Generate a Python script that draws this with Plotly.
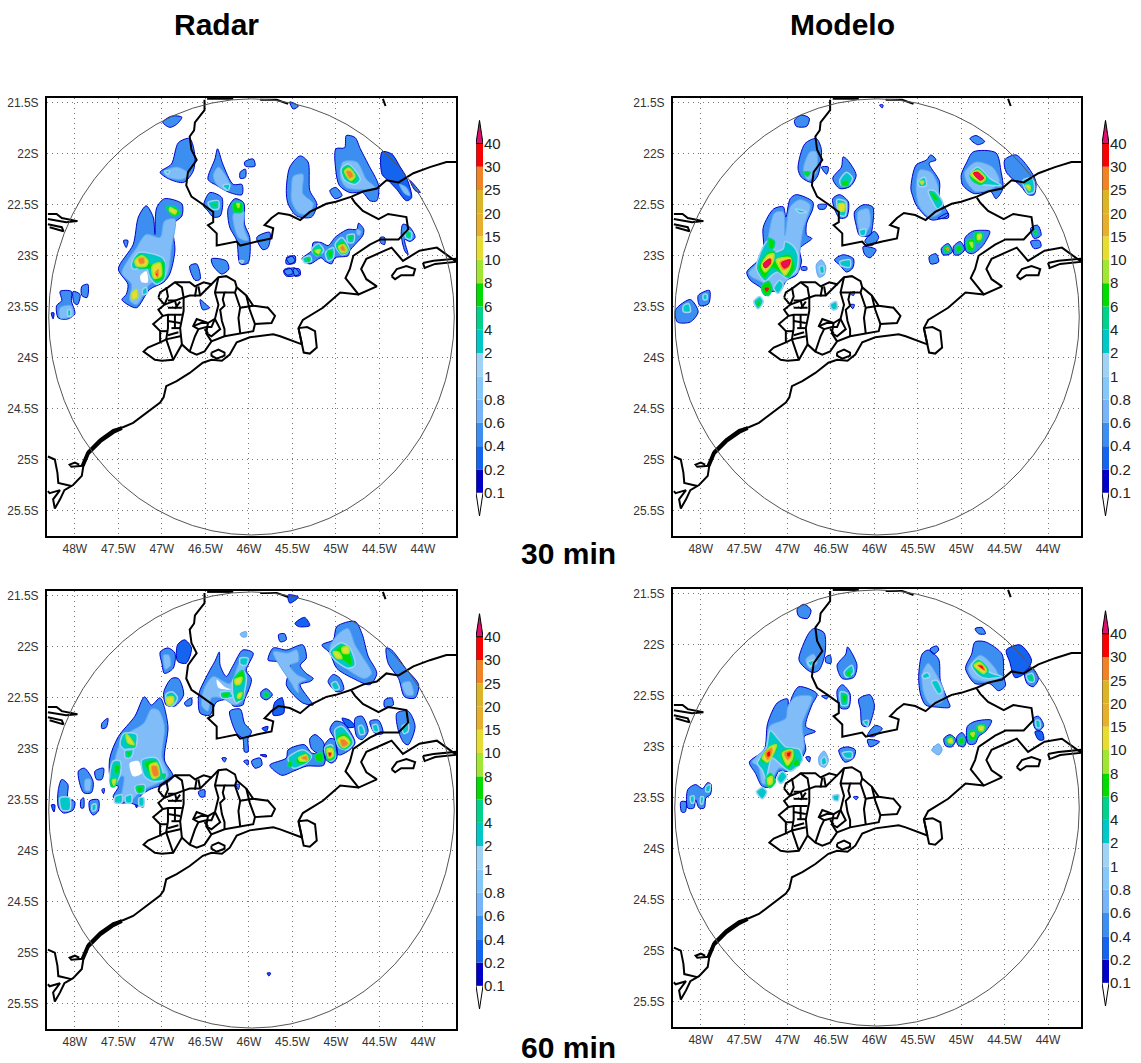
import plotly.graph_objects as go

W, H = 1141, 1063

# ---------- ticks ----------
lon_ticks = [48, 47.5, 47, 46.5, 46, 45.5, 45, 44.5, 44]
lon_labels = ["48W", "47.5W", "47W", "46.5W", "46W", "45.5W", "45W", "44.5W", "44W"]
lat_ticks = [21.5, 22, 22.5, 23, 23.5, 24, 24.5, 25, 25.5]
lat_labels = ["21.5S", "22S", "22.5S", "23S", "23.5S", "24S", "24.5S", "25S", "25.5S"]
lon_range = [48.32, 43.62]
lat_range = [25.75, 21.45]

# ---------- colour scale ----------
scale_labels = ["0.1", "0.2", "0.4", "0.6", "0.8", "1", "2", "4", "6", "8", "10", "15", "20", "25", "30", "40"]
scale_colors = ["#0000c8", "#1464f0", "#3c8ff0", "#78b4f8", "#87c8fa", "#a0d2f5", "#00c8c8", "#00d28c",
                "#00dc00", "#a0e632", "#e6dc32", "#e6af2d", "#dcb428", "#f08228", "#fa0000"]
scale_over_color = "#e0106e"

# ---------- radar range ring (degrees) ----------
ring_lon = [48.30, 43.64]
ring_lat = [25.74, 21.46]

# ---------- map lines: west longitude, south latitude ----------
border_main = [46.51,21.47, 46.51,21.57, 46.62,21.69, 46.63,21.77, 46.68,21.83, 46.66,21.96, 46.60,22.06, 46.70,22.18,
    46.72,22.31, 46.66,22.42, 46.54,22.49, 46.41,22.57, 46.41,22.67, 46.47,22.70, 46.37,22.78, 46.37,22.90, 46.14,22.86,
    46.10,22.90, 45.91,22.86, 45.74,22.83, 45.72,22.73, 45.82,22.70, 45.74,22.63, 45.66,22.58, 45.53,22.60, 45.41,22.65,
    45.30,22.57, 45.11,22.49, 45.00,22.47, 44.82,22.42, 44.69,22.37, 44.53,22.34, 44.42,22.26, 44.28,22.28, 44.11,22.19,
    43.92,22.13, 43.73,22.08, 43.61,22.08]
border_rj = [44.82,22.43, 44.78,22.48, 44.69,22.56, 44.51,22.64, 44.40,22.59, 44.19,22.62, 44.17,22.74, 44.28,22.84,
    44.49,22.84, 44.61,22.89, 44.80,23.00, 44.84,23.13, 44.89,23.22, 44.78,23.33, 44.74,23.38, 44.53,23.30, 44.65,23.23,
    44.71,23.13, 44.65,23.03, 44.44,22.95, 44.36,22.92, 44.23,23.05, 44.04,22.95, 43.84,22.92, 43.63,23.05]
coast_main = [44.74,23.38, 44.95,23.36, 45.15,23.51, 45.38,23.63, 45.43,23.71, 45.39,23.87, 45.64,23.79, 45.72,23.77,
    45.99,23.80, 46.14,23.85, 46.22,23.97, 46.31,24.03, 46.43,24.02, 46.53,24.05, 46.68,24.15, 46.83,24.23, 46.95,24.28,
    46.98,24.39, 47.02,24.44, 47.18,24.54, 47.33,24.64, 47.44,24.68, 47.56,24.71, 47.71,24.80, 47.85,24.92, 47.90,25.05,
    47.92,25.16, 48.02,25.25, 48.12,25.30, 48.17,25.39, 48.23,25.48, 48.25,25.39, 48.17,25.30, 48.29,25.33, 48.31,25.31]
coast_thick = [47.46,24.69, 47.56,24.73, 47.71,24.82, 47.85,24.94, 47.91,25.06]
coast_west = [48.31,24.97, 48.23,25.00, 48.20,25.13, 48.19,25.23, 48.04,25.26]
coast_loop = [47.90,25.06, 48.04,25.07, 48.06,25.05, 48.00,25.03, 47.95,25.05]
santos_loop = [46.43,23.95, 46.35,23.92, 46.28,23.95, 46.28,23.98, 46.37,24.01, 46.43,23.98, 46.43,23.95]
ilha_grande = [44.36,23.20, 44.30,23.13, 44.19,23.10, 44.09,23.13, 44.11,23.19, 44.25,23.19, 44.32,23.23, 44.36,23.20]
sepetiba = [44.00,23.07, 43.98,23.12, 43.86,23.08, 43.63,23.06, 43.63,23.03, 43.88,23.05, 44.00,23.07]
sao_sebastiao = [45.43,23.71, 45.39,23.87, 45.37,23.95, 45.30,23.96, 45.22,23.90, 45.24,23.74, 45.33,23.70, 45.43,23.71]
west_a = [48.31,22.59, 48.21,22.59, 48.15,22.63, 47.97,22.66, 48.10,22.67, 48.31,22.64]
west_b = [48.31,22.69, 48.15,22.72, 48.13,22.76, 48.29,22.72]
top_a = [46.48,21.46, 46.18,21.46]
top_b = [45.87,21.47, 45.68,21.47, 45.55,21.51]
top_c = [44.46,21.46, 44.43,21.53]
rmsp_outer = [47.04,23.41, 47.02,23.36, 46.93,23.31, 46.85,23.26, 46.68,23.26, 46.62,23.30, 46.52,23.26, 46.43,23.28,
    46.35,23.21, 46.26,23.20, 46.16,23.25, 46.14,23.31, 46.03,23.39, 45.95,23.49, 45.78,23.51, 45.70,23.59, 45.74,23.66,
    45.93,23.67, 45.95,23.74, 46.10,23.76, 46.28,23.79, 46.43,23.84, 46.51,23.94, 46.60,23.97, 46.68,23.94, 46.77,23.87,
    46.87,24.02, 47.00,24.03, 47.08,24.02, 47.21,23.94, 47.16,23.90, 47.02,23.85, 47.02,23.74, 47.10,23.67, 46.99,23.59,
    47.04,23.53, 46.97,23.48, 47.04,23.41]
rmsp_inner = [
    [46.97,23.48, 46.83,23.44, 46.75,23.41, 46.77,23.31, 46.85,23.26],
    [46.75,23.41, 46.68,23.39, 46.56,23.39, 46.51,23.35, 46.43,23.28],
    [46.95,23.31, 46.93,23.40, 46.97,23.48],
    [46.75,23.41, 46.75,23.54, 46.79,23.71, 46.77,23.87],
    [46.99,23.59, 46.93,23.58, 46.77,23.58],
    [46.93,23.58, 46.93,23.71, 46.95,23.82, 46.87,24.02],
    [47.02,23.85, 46.95,23.82, 46.79,23.79],
    [46.93,23.51, 46.77,23.51],
    [46.93,23.64, 46.79,23.66],
    [46.89,23.71, 46.79,23.71],
    [46.39,23.36, 46.28,23.36, 46.30,23.43, 46.28,23.49, 46.33,23.53, 46.31,23.64, 46.28,23.72, 46.28,23.79],
    [46.35,23.21, 46.39,23.36, 46.35,23.48, 46.39,23.62, 46.47,23.66, 46.60,23.62, 46.64,23.69, 46.58,23.72, 46.62,23.79, 46.68,23.94],
    [46.47,23.66, 46.49,23.76, 46.43,23.84],
    [46.39,23.62, 46.33,23.72, 46.43,23.79, 46.49,23.76],
    [46.16,23.36, 46.10,23.51, 46.12,23.61, 46.10,23.76],
    [46.10,23.51, 45.95,23.49],
    [46.03,23.39, 45.99,23.53, 45.93,23.67],
    [46.28,23.36, 46.16,23.36, 46.14,23.31],
    [46.93,23.44, 46.85,23.44, 46.83,23.50],
    [47.02,23.74, 46.93,23.74],
    [46.62,23.40, 46.60,23.30],
    [46.56,23.39, 46.58,23.30],
    [46.51,23.72, 46.47,23.76],
    [46.58,23.72, 46.49,23.70, 46.43,23.70, 46.39,23.62],
    [46.64,23.69, 46.55,23.66, 46.47,23.66],
    [46.79,23.45, 46.85,23.52],
    [46.85,23.58, 46.85,23.71],
    [46.93,23.78, 46.81,23.75],
]
top_marks = [47.53, 46.75, 46.37]

# ---------- rain areas: (level mm, [lon, lat, lon, lat, ...]) ; level 1 = rain-free hole ----------
radar_30 = [
 (0.4,[46.99,21.69,46.89,21.63,46.77,21.64,46.83,21.71,46.91,21.74]),
 (0.4,[47.02,22.18,46.89,22.10,46.81,21.89,46.68,21.85,46.62,22.02,46.64,22.17,46.75,22.28,46.91,22.25]),
 (0.8,[46.98,22.18,46.83,22.13,46.68,22.20,46.77,22.25,46.93,22.23]),
 (2,[46.97,22.17,46.91,22.17,46.93,22.20]),
 (0.4,[47.50,23.13,47.33,22.89,47.27,22.62,47.18,22.51,47.10,22.62,47.08,22.79,47.06,22.53,46.97,22.44,46.77,22.49,46.77,22.61,46.87,22.69,46.85,22.95,46.91,23.18,46.98,23.26,47.14,23.33,47.29,23.51,47.39,23.48,47.46,23.43,47.41,23.38,47.39,23.28]),
 (0.8,[47.46,23.17,47.29,22.92,47.18,22.79,47.02,22.82,46.97,22.66,46.85,22.64,46.89,22.92,46.95,23.20,47.14,23.28,47.29,23.48,47.37,23.44,47.35,23.28]),
 (1,[47.25,23.20,47.18,23.15,47.16,23.26,47.23,23.26]),
 (2,[47.35,23.08,47.27,22.97,47.16,22.97,46.98,23.03,46.97,23.22,47.06,23.28,47.14,23.21,47.18,23.12,47.33,23.13]),
 (6,[47.32,23.05,47.25,22.98,47.16,23.02,47.14,23.08,46.98,23.06,46.99,23.23,47.08,23.25,47.13,23.13,47.27,23.12]),
 (10,[47.31,23.05,47.23,23.00,47.16,23.05,47.18,23.10,47.29,23.10]),
 (10,[47.11,23.10,47.02,23.07,47.01,23.20,47.09,23.22]),
 (25,[47.27,23.03,47.21,23.02,47.20,23.07,47.25,23.08]),
 (25,[47.08,23.17,47.04,23.13,47.04,23.20]),
 (30,[47.07,23.18,47.05,23.17,47.05,23.21]),
 (10,[47.35,23.37,47.29,23.33,47.28,23.41,47.34,23.43]),
 (2,[47.22,23.33,47.18,23.31,47.17,23.37,47.22,23.38]),
 (6,[46.95,22.52,46.85,22.52,46.79,22.58,46.87,22.61]),
 (10,[46.91,22.53,46.83,22.56,46.85,22.59,46.91,22.56]),
 (0.4,[48.17,23.35,48.04,23.35,48.04,23.44,48.00,23.57,48.08,23.62,48.19,23.61,48.21,23.49,48.15,23.44]),
 (0.8,[48.17,23.51,48.04,23.49,48.02,23.59,48.17,23.61]),
 (2,[48.08,23.53,48.05,23.53,48.05,23.59,48.08,23.59]),
 (0.4,[48.02,23.35,47.94,23.38,47.97,23.48,48.01,23.46]),
 (0.4,[47.92,23.30,47.85,23.28,47.86,23.41,47.92,23.39]),
 (0.2,[48.27,23.56,48.24,23.56,48.25,23.62]),
 (0.4,[47.44,22.85,47.39,22.85,47.41,22.92]),
 (0.4,[46.68,23.10,46.60,23.08,46.56,23.23,46.62,23.24]),
 (0.4,[46.43,23.03,46.26,23.05,46.23,23.13,46.31,23.18,46.41,23.10]),
 (0.4,[46.47,22.25,46.39,22.05,46.36,21.95,46.30,22.10,46.18,22.30,46.08,22.30,46.08,22.40,46.22,22.38,46.37,22.31]),
 (0.8,[46.41,22.21,46.35,22.13,46.22,22.30,46.26,22.36,46.37,22.30]),
 (2,[46.30,22.31,46.22,22.30,46.24,22.36]),
 (0.4,[46.52,22.51,46.45,22.38,46.31,22.43,46.33,22.61,46.41,22.62,46.47,22.56]),
 (2,[46.47,22.48,46.35,22.46,46.35,22.54,46.43,22.54]),
 (6,[46.42,22.49,46.37,22.49,46.38,22.53]),
 (0.4,[46.24,22.54,46.16,22.44,46.06,22.48,46.05,22.69,45.99,22.82,46.01,23.07,46.10,23.08,46.14,22.85,46.22,22.72]),
 (0.8,[46.18,22.59,46.06,22.56,46.06,22.72,46.01,22.85,46.12,22.82]),
 (6,[46.18,22.48,46.08,22.48,46.08,22.57,46.17,22.57]),
 (10,[46.14,22.49,46.11,22.49,46.12,22.53]),
 (2,[46.11,23.05,46.06,23.05,46.08,23.07]),
 (0.4,[46.05,22.08,45.95,22.05,45.93,22.12,46.04,22.12]),
 (0.4,[46.10,22.18,46.04,22.15,46.04,22.23,46.10,22.24]),
 (0.4,[45.91,22.82,45.76,22.77,45.78,22.92,45.84,22.94]),
 (0.4,[45.57,23.03,45.47,23.00,45.47,23.07,45.57,23.08]),
 (0.4,[45.60,23.15,45.47,23.12,45.42,23.18,45.57,23.20]),
 (0.4,[45.57,22.36,45.53,22.13,45.41,22.02,45.32,22.08,45.30,22.36,45.22,22.49,45.28,22.62,45.45,22.61,45.55,22.49]),
 (0.8,[45.51,22.33,45.49,22.22,45.38,22.20,45.38,22.39,45.26,22.49,45.32,22.59,45.43,22.58,45.51,22.46]),
 (0.4,[45.00,21.95,44.90,21.94,44.88,21.82,44.78,21.84,44.72,21.95,44.63,22.10,44.51,22.31,44.53,22.46,44.61,22.46,44.69,22.38,44.84,22.38,44.96,22.31,45.00,22.17]),
 (0.8,[44.95,22.23,44.92,22.08,44.76,22.08,44.65,22.25,44.55,22.33,44.69,22.35,44.88,22.33]),
 (2,[44.94,22.15,44.86,22.10,44.72,22.25,44.78,22.30,44.90,22.26]),
 (6,[44.92,22.15,44.86,22.12,44.76,22.22,44.80,22.28,44.89,22.23]),
 (10,[44.90,22.17,44.85,22.14,44.78,22.22,44.83,22.26]),
 (25,[44.88,22.17,44.83,22.17,44.80,22.22,44.84,22.24]),
 (0.2,[44.47,21.98,44.36,22.00,44.26,22.13,44.19,22.23,44.13,22.43,44.19,22.46,44.30,22.35,44.40,22.26,44.47,22.20]),
 (0.8,[44.27,22.30,44.19,22.33,44.15,22.41,44.21,22.39]),
 (0.4,[44.15,22.26,44.03,22.38,44.09,22.36]),
 (0.4,[45.07,22.36,45.00,22.33,44.93,22.41,45.01,22.44]),
 (0.4,[45.39,23.03,45.28,22.95,45.26,22.87,45.17,22.87,45.09,22.90,45.01,22.82,44.93,22.77,44.86,22.74,44.76,22.74,44.74,22.68,44.68,22.74,44.69,22.80,44.78,22.89,44.84,22.95,44.86,23.00,45.01,23.02,45.05,23.08,45.13,23.05,45.17,23.02,45.30,23.08]),
 (2,[45.38,23.03,45.30,23.00,45.28,23.05,45.36,23.07]),
 (2,[45.28,22.94,45.20,22.88,45.14,22.95,45.22,23.00]),
 (2,[45.12,22.97,45.03,22.92,45.03,23.02,45.09,23.05]),
 (2,[45.01,22.89,44.93,22.82,44.85,22.95,44.93,22.99]),
 (2,[44.87,22.80,44.79,22.79,44.80,22.87,44.86,22.87]),
 (0.8,[44.76,22.74,44.71,22.76,44.73,22.80,44.76,22.79]),
 (6,[45.36,23.03,45.30,23.02,45.31,23.06]),
 (6,[45.26,22.94,45.18,22.93,45.18,22.99,45.24,22.99]),
 (6,[45.09,22.95,45.04,22.95,45.05,23.02,45.08,23.02]),
 (6,[44.99,22.90,44.92,22.86,44.86,22.95,44.93,22.98]),
 (6,[44.86,22.81,44.80,22.81,44.82,22.85]),
 (10,[45.24,22.95,45.18,22.94,45.20,22.98]),
 (10,[44.97,22.91,44.91,22.89,44.87,22.95,44.93,22.97]),
 (25,[44.95,22.92,44.92,22.90,44.89,22.95,44.93,22.95]),
 (0.4,[45.57,23.02,45.51,23.00,45.47,23.05,45.53,23.08]),
 (0.4,[45.60,23.14,45.53,23.12,45.49,23.17,45.56,23.19]),
 (0.4,[45.49,23.13,45.42,23.13,45.41,23.19,45.47,23.20]),
 (0.4,[44.23,22.69,44.15,22.72,44.09,22.82,44.15,22.86,44.21,22.84,44.17,22.99,44.21,22.95,44.25,22.79]),
 (2,[44.20,22.75,44.13,22.77,44.14,22.84,44.20,22.82]),
 (6,[44.18,22.76,44.15,22.79,44.17,22.82]),
 (0.4,[44.49,22.82,44.44,22.82,44.44,22.89,44.49,22.87]),
 (0.4,[45.53,21.49,45.43,21.53,45.49,21.56]),
 (0.4,[46.56,23.43,46.49,23.48,46.45,23.51,46.53,23.53]),
]
model_30 = [
 (0.4,[46.92,21.67,46.84,21.62,46.75,21.65,46.78,21.73,46.90,21.73]),
 (0.4,[45.94,21.52,45.90,21.52,45.91,21.55]),
 (0.4,[46.88,22.14,46.80,21.90,46.67,21.85,46.61,21.96,46.65,22.21,46.72,22.28,46.84,22.23]),
 (0.8,[46.82,22.16,46.74,21.98,46.67,21.98,46.67,22.18,46.76,22.26]),
 (6,[46.82,22.18,46.74,22.18,46.77,22.22]),
 (0.4,[46.61,22.13,46.53,22.13,46.55,22.20]),
 (0.4,[46.48,22.24,46.38,22.13,46.36,22.03,46.32,22.05,46.21,22.21,46.28,22.32,46.40,22.34]),
 (2,[46.40,22.26,46.32,22.18,46.25,22.24,46.30,22.31,46.38,22.31]),
 (6,[46.38,22.28,46.30,22.26,46.30,22.31,46.37,22.31]),
 (0.4,[46.48,22.44,46.40,22.40,46.30,22.47,46.32,22.62,46.40,22.63,46.46,22.54]),
 (2,[46.43,22.45,46.33,22.47,46.34,22.61,46.40,22.60]),
 (10,[46.41,22.49,46.34,22.49,46.35,22.56,46.41,22.56]),
 (0.4,[46.65,22.50,46.55,22.50,46.57,22.54,46.64,22.54]),
 (0.4,[46.23,22.57,46.13,22.50,46.02,22.52,46.02,22.70,46.05,22.80,46.17,22.80,46.21,22.70]),
 (0.8,[46.19,22.57,46.07,22.54,46.05,22.70,46.11,22.78,46.17,22.76]),
 (2,[46.17,22.75,46.10,22.74,46.11,22.80,46.16,22.80]),
 (0.4,[46.11,22.86,46.00,22.76,45.95,22.82,46.03,22.90]),
 (0.4,[46.13,22.91,45.98,22.94,46.05,23.02,46.11,22.99]),
 (0.4,[47.47,23.16,47.28,22.99,47.28,22.72,47.16,22.54,47.05,22.52,47.02,22.62,46.97,22.44,46.90,22.40,46.71,22.47,46.71,22.54,46.78,22.68,46.78,22.80,46.72,22.83,46.86,22.93,46.84,23.06,46.90,23.19,47.01,23.24,47.09,23.35,47.18,23.35,47.26,23.39,47.30,23.32,47.43,23.24]),
 (0.8,[47.45,23.17,47.26,22.99,47.22,22.80,47.15,22.58,47.05,22.57,47.03,22.80,46.97,22.52,46.86,22.45,46.74,22.50,46.82,22.73,46.86,22.96,46.88,23.16,46.97,23.21,47.11,23.32,47.20,23.32,47.26,23.35,47.28,23.27,47.41,23.21]),
 (2,[47.36,23.12,47.24,22.86,47.17,22.85,47.15,22.96,47.05,22.93,47.03,22.86,46.94,22.90,46.88,22.99,46.90,23.14,47.01,23.22,47.11,23.16,47.18,23.19,47.26,23.25]),
 (6,[47.34,23.12,47.22,22.96,47.15,22.96,47.17,23.06,47.09,23.01,46.97,22.99,46.92,23.12,46.99,23.21,47.09,23.16,47.18,23.12,47.26,23.22]),
 (10,[47.30,23.09,47.22,22.99,47.16,22.98,47.17,23.06,47.26,23.16]),
 (10,[47.13,23.04,46.97,23.02,46.97,23.11,47.03,23.19,47.09,23.12]),
 (25,[47.28,23.08,47.21,23.03,47.18,23.04,47.24,23.12]),
 (25,[47.09,23.06,46.97,23.04,46.98,23.11,47.05,23.14]),
 (40,[47.28,23.08,47.20,23.03,47.20,23.08,47.26,23.12]),
 (40,[47.07,23.07,46.97,23.04,46.99,23.10,47.04,23.12]),
 (2,[46.91,22.54,46.78,22.57,46.86,22.58]),
 (6,[47.22,22.83,47.15,22.86,47.17,22.93,47.21,22.93]),
 (6,[47.30,23.30,47.22,23.25,47.18,23.32,47.22,23.39,47.28,23.37]),
 (40,[47.26,23.32,47.22,23.32,47.24,23.35]),
 (2,[47.16,23.32,47.09,23.24,47.05,23.29,47.11,23.37]),
 (2,[47.39,23.45,47.32,23.40,47.28,23.45,47.34,23.52]),
 (6,[47.36,23.46,47.32,23.44,47.31,23.47,47.34,23.50]),
 (0.4,[48.29,23.53,48.12,23.43,48.03,23.55,48.12,23.65,48.27,23.65]),
 (0.4,[48.03,23.39,47.90,23.34,47.91,23.47,48.01,23.49]),
 (2,[47.97,23.38,47.93,23.38,47.93,23.43,47.97,23.43]),
 (2,[48.20,23.49,48.14,23.47,48.12,23.55,48.20,23.55]),
 (0.4,[46.84,23.11,46.78,23.11,46.78,23.14,46.84,23.14]),
 (0.8,[46.67,23.09,46.61,23.04,46.56,23.11,46.58,23.19,46.64,23.21]),
 (2,[46.63,23.11,46.59,23.10,46.58,23.17,46.62,23.17]),
 (0.4,[46.46,23.04,46.36,22.99,46.24,23.03,46.25,23.12,46.32,23.16,46.40,23.09]),
 (2,[46.40,23.06,46.28,23.04,46.28,23.11,46.38,23.10]),
 (2,[46.51,23.48,46.44,23.45,46.43,23.52,46.48,23.53]),
 (0.4,[46.28,23.37,46.23,23.35,46.24,23.39]),
 (0.4,[46.28,23.48,46.23,23.48,46.25,23.52]),
 (0.4,[45.58,22.34,45.52,22.11,45.40,22.06,45.35,22.01,45.29,22.06,45.37,22.09,45.25,22.27,45.25,22.44,45.15,22.60,45.33,22.65,45.40,22.62,45.52,22.50,45.56,22.41]),
 (0.8,[45.52,22.34,45.48,22.16,45.35,22.18,45.27,22.31,45.25,22.47,45.23,22.57,45.36,22.62,45.48,22.52]),
 (2,[45.50,22.27,45.42,22.23,45.40,22.31,45.48,22.32]),
 (2,[45.38,22.36,45.31,22.36,45.21,22.49,45.27,22.54]),
 (6,[45.36,22.37,45.31,22.39,45.25,22.47,45.31,22.45]),
 (10,[45.48,22.27,45.43,22.27,45.45,22.30]),
 (0.4,[45.25,22.62,45.15,22.58,45.15,22.63,45.27,22.63]),
 (0.4,[45.00,22.21,44.94,22.09,44.86,21.98,44.60,21.99,44.54,22.18,44.52,22.34,44.60,22.44,44.66,22.37,44.85,22.39,44.98,22.31]),
 (0.8,[44.94,22.27,44.96,22.18,44.83,22.08,44.64,22.13,44.56,22.27,44.64,22.34,44.83,22.37]),
 (2,[44.90,22.21,44.81,22.13,44.67,22.24,44.54,22.31,44.64,22.31,44.83,22.29]),
 (6,[44.90,22.21,44.81,22.15,44.70,22.25,44.77,22.30,44.86,22.27]),
 (10,[44.89,22.20,44.81,22.16,44.72,22.24,44.77,22.28]),
 (40,[44.86,22.19,44.81,22.18,44.74,22.24,44.78,22.26]),
 (0.4,[44.90,21.85,44.83,21.82,44.73,21.88,44.81,21.91]),
 (0.4,[44.50,22.06,44.37,22.01,44.23,22.13,44.14,22.27,44.16,22.40,44.23,22.40,44.31,22.32,44.48,22.18]),
 (2,[44.29,22.26,44.18,22.24,44.16,22.37,44.23,22.39]),
 (10,[44.26,22.31,44.21,22.31,44.21,22.36]),
 (0.4,[45.23,22.93,45.15,22.88,45.10,22.96,45.15,22.99,45.21,22.99]),
 (6,[45.20,22.92,45.15,22.90,45.13,22.95,45.18,22.97]),
 (25,[45.18,22.93,45.15,22.92,45.15,22.95]),
 (0.4,[45.09,22.91,45.01,22.86,44.96,22.94,45.02,22.99,45.08,22.99]),
 (6,[45.06,22.91,45.01,22.90,44.99,22.94,45.04,22.97]),
 (0.4,[44.96,22.83,44.87,22.76,44.75,22.75,44.67,22.76,44.75,22.90,44.87,22.98,44.94,22.96]),
 (6,[44.93,22.85,44.86,22.84,44.85,22.94,44.92,22.95]),
 (6,[44.84,22.77,44.75,22.78,44.77,22.86,44.84,22.86]),
 (10,[44.90,22.87,44.87,22.87,44.87,22.92]),
 (10,[44.81,22.79,44.77,22.79,44.78,22.84,44.81,22.84]),
 (0.4,[45.37,23.01,45.29,22.98,45.26,23.06,45.35,23.08]),
 (0.4,[44.20,22.73,44.12,22.70,44.08,22.80,44.16,22.83]),
 (6,[44.16,22.75,44.13,22.75,44.13,22.79,44.16,22.79]),
 (0.4,[44.20,22.86,44.10,22.85,44.08,22.91,44.16,22.93]),
]
radar_60 = [
 (0.4,[47.02,22.05,46.93,22.01,46.85,22.06,46.87,22.21,46.97,22.26,47.00,22.16]),
 (0.8,[46.98,22.08,46.92,22.08,46.90,22.18,46.96,22.22]),
 (0.2,[46.82,21.98,46.74,21.93,46.66,22.01,46.72,22.16,46.82,22.14]),
 (0.4,[46.98,22.45,46.89,22.31,46.81,22.31,46.75,22.47,46.85,22.58,46.95,22.57]),
 (2,[46.95,22.46,46.88,22.44,46.82,22.50,46.88,22.58,46.94,22.56]),
 (10,[46.95,22.50,46.87,22.49,46.87,22.55,46.93,22.57]),
 (0.4,[46.74,22.55,46.66,22.50,46.66,22.57,46.72,22.58]),
 (0.4,[47.60,23.10,47.50,22.88,47.31,22.68,47.20,22.49,47.12,22.57,47.02,22.50,46.93,22.78,46.97,23.11,46.87,23.27,46.95,23.34,47.14,23.40,47.25,23.47,47.21,23.57,47.37,23.53,47.48,23.53,47.56,23.47,47.50,23.37,47.58,23.34]),
 (0.8,[47.54,23.11,47.44,22.88,47.21,22.75,47.12,22.61,47.04,22.62,46.97,22.78,47.00,23.08,46.93,23.27,47.25,23.42,47.37,23.52,47.46,23.50,47.44,23.27,47.54,23.27]),
 (1,[47.37,23.14,47.27,23.12,47.23,23.24,47.33,23.27]),
 (2,[47.44,22.85,47.29,22.86,47.31,22.99,47.42,23.01,47.48,22.96]),
 (2,[47.42,23.01,47.33,23.01,47.35,23.08,47.42,23.09]),
 (2,[47.23,23.11,47.06,23.09,46.98,23.30,47.10,23.32,47.20,23.27]),
 (2,[47.56,23.12,47.48,23.12,47.48,23.26,47.56,23.37,47.60,23.30]),
 (2,[47.31,23.37,47.20,23.35,47.20,23.43,47.29,23.43]),
 (2,[47.54,23.47,47.46,23.45,47.46,23.53,47.54,23.53]),
 (2,[47.42,23.47,47.35,23.45,47.35,23.53,47.41,23.53]),
 (2,[47.26,23.48,47.21,23.48,47.21,23.56,47.26,23.56]),
 (6,[47.42,22.86,47.33,22.91,47.31,22.98,47.39,22.96]),
 (6,[47.41,23.03,47.36,23.03,47.38,23.08]),
 (6,[47.20,23.14,47.08,23.11,47.02,23.27,47.10,23.30,47.16,23.22]),
 (6,[47.54,23.16,47.49,23.16,47.50,23.24,47.54,23.24]),
 (6,[47.59,23.30,47.52,23.29,47.54,23.37,47.58,23.37]),
 (6,[47.29,23.37,47.21,23.37,47.23,23.42,47.27,23.43]),
 (6,[47.00,23.25,46.96,23.25,46.98,23.30]),
 (10,[47.41,22.86,47.35,22.91,47.32,22.96,47.39,22.94]),
 (10,[47.14,23.16,47.06,23.14,47.03,23.26,47.10,23.29]),
 (10,[47.57,23.31,47.53,23.30,47.55,23.36]),
 (25,[47.12,23.17,47.06,23.17,47.04,23.26,47.09,23.27]),
 (0.4,[48.19,23.40,48.15,23.30,48.08,23.35,48.08,23.48,48.00,23.52,48.02,23.60,48.13,23.63,48.19,23.57]),
 (2,[48.17,23.48,48.06,23.48,48.06,23.60,48.15,23.60]),
 (0.4,[47.96,23.22,47.89,23.19,47.79,23.32,47.81,23.43,47.90,23.43]),
 (0.8,[47.88,23.30,47.82,23.30,47.83,23.41,47.88,23.41]),
 (0.4,[47.77,23.22,47.67,23.19,47.69,23.30,47.75,23.30]),
 (0.4,[47.93,23.50,47.90,23.48,47.90,23.58,47.93,23.58]),
 (0.4,[47.83,23.51,47.73,23.50,47.73,23.61,47.79,23.65,47.83,23.60]),
 (2,[47.80,23.55,47.76,23.54,47.76,23.60,47.80,23.61]),
 (0.2,[48.27,23.55,48.23,23.55,48.24,23.62]),
 (0.4,[47.69,22.75,47.62,22.70,47.64,22.79,47.69,22.80]),
 (0.4,[47.69,23.40,47.66,23.39,47.67,23.44]),
 (0.4,[46.56,22.42,46.45,22.23,46.39,22.14,46.34,22.05,46.33,22.18,46.26,22.29,46.18,22.18,46.07,22.03,45.95,22.06,46.03,22.23,45.97,22.32,46.05,22.52,46.07,22.57,46.18,22.58,46.22,22.52,46.37,22.54,46.45,22.67,46.56,22.65,46.58,22.49]),
 (0.8,[46.52,22.42,46.41,22.29,46.22,22.36,46.10,22.14,46.01,22.11,46.07,22.29,46.05,22.50,46.16,22.57,46.31,22.50,46.43,22.50,46.47,22.63,46.54,22.58]),
 (1,[46.37,22.32,46.28,22.39,46.20,22.42,46.35,22.40]),
 (2,[46.33,22.45,46.22,22.44,46.18,22.49,46.31,22.50]),
 (2,[46.18,22.32,46.07,22.23,46.03,22.29,46.07,22.49,46.14,22.55,46.18,22.49]),
 (2,[46.10,22.11,46.01,22.11,46.03,22.18,46.10,22.17]),
 (6,[46.17,22.31,46.07,22.23,46.06,22.34,46.16,22.39]),
 (6,[46.14,22.45,46.07,22.44,46.08,22.51,46.14,22.52]),
 (6,[46.31,22.46,46.22,22.45,46.24,22.49,46.30,22.49]),
 (10,[46.16,22.32,46.08,22.30,46.10,22.36,46.15,22.37]),
 (10,[46.12,22.46,46.08,22.45,46.10,22.50,46.13,22.50]),
 (0.4,[46.22,22.63,46.10,22.61,46.05,22.75,45.97,22.83,46.01,22.90,46.01,23.03,46.05,23.03,46.07,22.90,46.14,22.85,46.20,22.73]),
 (0.8,[46.10,21.87,46.03,21.85,46.03,21.90,46.08,21.90]),
 (0.4,[45.66,21.88,45.59,21.87,45.57,21.93,45.64,21.95]),
 (0.2,[45.47,21.77,45.36,21.71,45.30,21.79,45.43,21.80]),
 (0.2,[45.55,21.49,45.43,21.51,45.53,21.57]),
 (0.4,[45.78,22.13,45.72,22.01,45.57,22.03,45.38,21.98,45.34,22.11,45.41,22.18,45.34,22.26,45.26,22.31,45.30,22.34,45.41,22.37,45.30,22.52,45.26,22.57,45.38,22.55,45.51,22.45,45.57,22.37,45.53,22.16,45.72,22.14]),
 (0.8,[45.72,22.05,45.55,22.06,45.45,22.03,45.43,22.14,45.53,22.18,45.45,22.27,45.34,22.32,45.43,22.36,45.43,22.45,45.47,22.42,45.51,22.36]),
 (0.4,[45.86,22.44,45.80,22.41,45.73,22.47,45.80,22.52,45.86,22.49]),
 (6,[45.82,22.45,45.78,22.45,45.78,22.49,45.82,22.49]),
 (0.2,[45.70,22.54,45.62,22.50,45.60,22.65,45.72,22.67]),
 (0.4,[45.09,22.34,45.03,22.27,44.95,22.31,44.91,22.42,44.99,22.44]),
 (2,[45.05,22.36,45.00,22.34,44.96,22.41,45.02,22.42]),
 (0.4,[45.16,21.98,45.03,21.93,44.99,21.80,44.78,21.75,44.70,21.87,44.63,22.09,44.53,22.26,44.61,22.37,44.80,22.31,44.99,22.21,45.07,22.06]),
 (0.8,[45.07,22.01,44.97,21.87,44.86,21.82,44.78,21.98,44.70,22.09,44.59,22.26,44.67,22.31,44.80,22.26,44.95,22.16]),
 (2,[45.07,22.05,44.94,21.96,44.84,22.01,44.78,22.18,44.86,22.21,45.01,22.13]),
 (6,[45.03,22.05,44.92,21.98,44.84,22.05,44.82,22.18,44.95,22.11]),
 (10,[45.03,22.05,44.97,22.05,44.93,22.11,44.99,22.11]),
 (10,[44.93,22.01,44.86,22.00,44.85,22.06,44.92,22.06]),
 (0.4,[44.42,22.01,44.36,22.03,44.19,22.22,44.05,22.37,44.09,22.50,44.21,22.49,44.28,22.31,44.40,22.16]),
 (0.8,[44.24,22.36,44.15,22.34,44.11,22.47,44.19,22.47]),
 (0.4,[45.76,23.16,45.57,23.09,45.55,23.01,45.36,22.96,45.28,23.04,45.13,23.06,45.14,23.16,45.34,23.17,45.49,23.22,45.62,23.26]),
 (0.4,[45.30,22.90,45.24,22.86,45.14,22.94,45.13,23.08,45.18,23.06,45.28,23.00]),
 (0.4,[45.14,22.98,45.07,22.90,45.01,22.91,44.99,23.09,45.05,23.14,45.13,23.09]),
 (0.4,[45.07,22.81,45.01,22.73,44.91,22.75,44.78,22.94,44.84,23.01,44.97,23.06,45.01,22.91]),
 (0.2,[44.93,22.70,44.84,22.72,44.78,22.78,44.86,22.79]),
 (0.4,[44.78,22.70,44.70,22.68,44.63,22.83,44.70,22.91,44.76,22.88]),
 (0.4,[44.61,22.73,44.51,22.72,44.46,22.85,44.55,22.85]),
 (0.4,[44.44,22.52,44.36,22.50,44.34,22.57,44.44,22.59]),
 (0.4,[44.30,22.65,44.17,22.63,44.09,22.78,44.17,22.96,44.22,22.94,44.28,22.83]),
 (2,[44.24,22.78,44.17,22.75,44.17,22.83,44.22,22.85]),
 (2,[45.55,23.09,45.38,23.01,45.28,23.07,45.34,23.14,45.49,23.19]),
 (6,[45.46,23.11,45.36,23.04,45.30,23.09,45.36,23.14,45.45,23.14]),
 (10,[45.43,23.09,45.34,23.06,45.32,23.11,45.41,23.12]),
 (25,[45.40,23.09,45.34,23.07,45.33,23.11]),
 (2,[45.13,22.99,45.05,22.96,45.01,23.09,45.07,23.12]),
 (6,[45.11,22.99,45.03,22.99,45.02,23.09,45.09,23.11]),
 (10,[45.10,23.00,45.04,23.00,45.03,23.07,45.08,23.09]),
 (30,[45.09,23.04,45.05,23.04,45.07,23.08]),
 (2,[45.01,22.81,44.93,22.78,44.80,22.94,44.88,23.01,44.97,22.98]),
 (6,[44.99,22.88,44.90,22.85,44.82,22.93,44.90,23.00,44.95,22.98]),
 (10,[44.98,22.91,44.90,22.88,44.84,22.94,44.91,22.99]),
 (25,[44.95,22.91,44.90,22.91,44.86,22.95,44.92,22.98]),
 (6,[45.55,23.14,45.51,23.12,45.51,23.17,45.55,23.17]),
 (6,[45.24,23.06,45.16,23.04,45.15,23.12,45.22,23.12]),
 (2,[44.74,22.78,44.70,22.77,44.67,22.85,44.72,22.86]),
 (2,[44.58,22.77,44.53,22.76,44.51,22.83,44.56,22.83]),
 (0.4,[46.31,23.09,46.26,23.09,46.28,23.13]),
 (0.4,[46.06,23.12,46.01,23.11,46.01,23.16]),
 (0.4,[45.97,23.12,45.87,23.09,45.85,23.16,45.93,23.19]),
 (0.2,[45.87,23.06,45.80,23.06,45.80,23.08]),
 (0.4,[46.58,23.42,46.51,23.40,46.51,23.47,46.56,23.47]),
 (0.4,[46.15,23.35,46.11,23.35,46.12,23.40]),
 (0.2,[45.85,22.80,45.78,22.78,45.80,22.83]),
 (0.2,[47.31,23.53,47.28,23.53,47.29,23.58]),
 (0.2,[45.79,25.20,45.75,25.20,45.77,25.23]),
]
model_60 = [
 (0.4,[46.89,21.65,46.81,21.60,46.73,21.66,46.77,21.74,46.87,21.72]),
 (0.4,[46.87,22.14,46.76,21.89,46.70,21.84,46.58,21.88,46.57,22.09,46.64,22.25,46.72,22.27,46.83,22.20]),
 (0.8,[46.79,22.14,46.70,22.09,46.66,22.18,46.75,22.23]),
 (2,[46.77,22.17,46.70,22.15,46.73,22.21]),
 (0.4,[46.56,22.12,46.51,22.10,46.50,22.18,46.56,22.17]),
 (0.4,[46.43,22.20,46.33,22.09,46.31,22.02,46.28,22.05,46.20,22.20,46.24,22.32,46.37,22.33]),
 (2,[46.35,22.27,46.26,22.20,46.24,22.27,46.32,22.32]),
 (6,[46.33,22.28,46.28,22.25,46.28,22.31]),
 (0.4,[46.43,22.45,46.37,22.39,46.28,22.48,46.30,22.62,46.39,22.62]),
 (2,[46.39,22.46,46.31,22.48,46.31,22.59,46.38,22.59]),
 (6,[46.37,22.49,46.32,22.49,46.33,22.56,46.36,22.56]),
 (0.4,[46.61,22.50,46.53,22.50,46.55,22.53]),
 (0.4,[46.18,22.53,46.05,22.49,46.00,22.59,46.03,22.72,46.07,22.80,46.14,22.79,46.16,22.64]),
 (2,[46.13,22.75,46.07,22.74,46.08,22.80]),
 (0.4,[46.08,22.89,45.99,22.79,45.91,22.82,46.01,22.90]),
 (0.4,[46.08,22.93,45.94,22.95,46.05,23.00]),
 (0.4,[47.44,23.15,47.27,23.03,47.23,22.77,47.12,22.57,47.00,22.53,47.00,22.69,46.95,22.51,46.87,22.41,46.66,22.48,46.72,22.59,46.79,22.80,46.68,22.85,46.81,22.90,46.79,23.03,46.87,23.15,47.00,23.24,47.10,23.24,47.19,23.39,47.29,23.39,47.37,23.26]),
 (0.8,[47.41,23.15,47.25,23.00,47.21,22.80,47.02,22.72,47.00,22.61,46.91,22.51,46.72,22.51,46.83,22.77,46.81,23.00,46.87,23.11,47.00,23.21,47.10,23.21,47.21,23.36,47.29,23.36,47.34,23.19]),
 (2,[47.35,23.16,47.25,23.03,47.20,22.84,47.10,22.93,47.02,23.00,46.87,23.02,46.83,23.13,46.97,23.24,47.06,23.19,47.18,23.11,47.25,23.32,47.29,23.23]),
 (6,[47.31,23.13,47.21,23.00,47.12,22.97,47.12,23.03,47.20,23.11,47.27,23.16]),
 (6,[47.08,23.05,46.95,23.02,46.91,23.10,46.98,23.21,47.04,23.18]),
 (10,[47.29,23.11,47.20,23.00,47.13,22.98,47.16,23.06,47.23,23.15]),
 (10,[47.06,23.06,46.95,23.03,46.94,23.10,47.00,23.18]),
 (25,[47.26,23.06,47.18,23.01,47.18,23.06,47.23,23.13]),
 (25,[47.04,23.06,46.96,23.04,46.96,23.10,47.00,23.13]),
 (30,[47.24,23.06,47.20,23.04,47.20,23.09,47.23,23.10]),
 (30,[47.01,23.06,46.96,23.05,46.97,23.09,47.00,23.10]),
 (6,[47.25,23.32,47.20,23.26,47.14,23.34,47.20,23.40,47.23,23.39]),
 (10,[47.23,23.31,47.18,23.29,47.18,23.36,47.22,23.37]),
 (6,[46.93,23.13,46.87,23.13,46.87,23.18,46.93,23.18]),
 (2,[47.12,23.31,47.06,23.24,47.01,23.29,47.08,23.36]),
 (2,[47.36,23.44,47.29,23.40,47.24,23.44,47.29,23.51]),
 (0.4,[48.15,23.42,48.06,23.37,47.98,23.41,47.92,23.35,47.88,23.37,47.89,23.47,47.94,23.50,47.96,23.60,48.02,23.60,48.06,23.52,48.08,23.60,48.15,23.60]),
 (2,[48.12,23.49,48.08,23.48,48.08,23.55,48.11,23.55]),
 (2,[48.00,23.49,47.97,23.49,47.98,23.56,48.00,23.56]),
 (2,[47.94,23.39,47.89,23.37,47.90,23.44,47.94,23.44]),
 (0.4,[48.23,23.54,48.17,23.54,48.18,23.64,48.22,23.64]),
 (0.4,[46.79,23.10,46.74,23.10,46.75,23.15]),
 (0.8,[46.64,23.10,46.58,23.04,46.53,23.13,46.57,23.20,46.63,23.18]),
 (2,[46.61,23.12,46.57,23.10,46.55,23.16,46.60,23.18]),
 (0.4,[46.41,23.03,46.31,23.00,46.22,23.03,46.24,23.11,46.34,23.15]),
 (2,[46.37,23.06,46.26,23.05,46.26,23.11,46.33,23.11]),
 (2,[46.48,23.48,46.41,23.47,46.42,23.53,46.47,23.52]),
 (0.4,[46.24,23.49,46.19,23.49,46.21,23.52]),
 (0.4,[45.49,22.31,45.45,22.09,45.38,22.05,45.26,22.14,45.24,22.35,45.16,22.53,45.13,22.61,45.28,22.61,45.41,22.59,45.47,22.48]),
 (0.8,[45.45,22.28,45.38,22.18,45.28,22.30,45.20,22.45,45.22,22.56,45.36,22.58,45.43,22.48]),
 (2,[45.45,22.30,45.39,22.27,45.36,22.31,45.43,22.33]),
 (2,[45.34,22.36,45.28,22.35,45.22,22.46,45.26,22.48]),
 (0.4,[45.36,22.04,45.28,22.01,45.26,22.05,45.32,22.09]),
 (0.4,[44.95,22.23,44.88,22.09,44.84,21.97,44.72,21.97,44.53,22.09,44.51,22.31,44.49,22.40,44.57,22.45,44.67,22.38,44.84,22.38]),
 (0.8,[44.92,22.23,44.78,22.10,44.61,22.23,44.57,22.33,44.72,22.36,44.86,22.33]),
 (2,[44.88,22.20,44.80,22.14,44.67,22.27,44.53,22.31,44.71,22.33,44.80,22.30]),
 (6,[44.86,22.20,44.80,22.15,44.69,22.25,44.72,22.28,44.80,22.27]),
 (10,[44.85,22.20,44.79,22.17,44.71,22.25,44.74,22.28]),
 (30,[44.81,22.20,44.76,22.20,44.73,22.25]),
 (0.4,[44.84,21.84,44.76,21.83,44.72,21.89,44.80,21.89]),
 (0.2,[44.48,22.05,44.32,22.00,44.19,22.15,44.27,22.28,44.38,22.32,44.44,22.17]),
 (0.4,[44.27,22.27,44.19,22.22,44.11,22.33,44.17,22.41,44.24,22.38]),
 (2,[44.25,22.30,44.18,22.28,44.16,22.36,44.22,22.36]),
 (6,[44.22,22.31,44.18,22.31,44.18,22.35]),
 (0.8,[45.34,23.03,45.26,22.97,45.22,23.03,45.26,23.08]),
 (0.4,[45.20,22.92,45.13,22.88,45.06,22.93,45.11,23.00,45.18,22.99]),
 (6,[45.17,22.93,45.11,22.90,45.09,22.96,45.15,22.97]),
 (10,[45.15,22.93,45.11,22.92,45.10,22.96,45.14,22.96]),
 (0.4,[45.05,22.90,44.99,22.86,44.94,22.93,44.97,23.00,45.04,22.98]),
 (6,[45.02,22.92,44.98,22.91,44.97,22.96,45.02,22.97]),
 (0.4,[44.93,22.80,44.84,22.75,44.65,22.74,44.71,22.84,44.80,22.90,44.84,22.97,44.92,22.97]),
 (6,[44.91,22.85,44.84,22.84,44.83,22.92,44.90,22.93]),
 (6,[44.82,22.79,44.72,22.79,44.74,22.85,44.81,22.85]),
 (10,[44.80,22.80,44.74,22.80,44.75,22.84,44.79,22.84]),
 (10,[44.89,22.87,44.85,22.86,44.86,22.90]),
 (0.4,[44.17,22.72,44.11,22.70,44.05,22.79,44.10,22.84,44.15,22.82]),
 (2,[44.14,22.74,44.10,22.74,44.09,22.81,44.13,22.81]),
 (0.2,[44.15,22.85,44.07,22.85,44.05,22.93,44.11,22.93]),
]

rain_styles = {
    0.2: ("#1464f0", "#0000c8", 1.0), 0.4: ("#3c8ff0", "#0000c8", 1.0), 0.8: ("#80bcf8", "#60a8f4", 1.0),
    1: ("#ffffff", "#ffffff", 0.0), 2: ("#00c8c8", "#a0d2f5", 1.5), 6: ("#00dc00", "#00d28c", 1.5),
    10: ("#e6dc32", "#a0e632", 1.5), 25: ("#f08228", "#e6af2d", 1.0), 30: ("#fa0000", "#f08228", 1.0),
    40: ("#e6105a", "#fa0000", 1.0),
}

panels = [
    ("radar_30", radar_30, (47, 456, 96, 535), (476, 483, 118.4, 515)),
    ("model_30", model_30, (673, 1081, 96, 535), (1102, 1109, 118.4, 515)),
    ("radar_60", radar_60, (47, 456, 590, 1029), (476, 483, 612.6, 1009)),
    ("model_60", model_60, (673, 1081, 588, 1027), (1102, 1109, 609.6, 1006)),
]
titles = [("Radar", 216, 23), ("Modelo", 842, 23), ("30 min", 568, 553), ("60 min", 568, 1047)]


def split(flat):
    return flat[0::2], flat[1::2]


def join(paths):
    xs, ys = [], []
    for p in paths:
        x, y = split(p)
        xs += list(x) + [None]
        ys += list(y) + [None]
    return xs, ys


def closed(flat):
    return list(flat) + list(flat[:2])


FONT = "Liberation Sans, Arial, sans-serif"
fig = go.Figure()
layout = {}
shapes = []
for i, (name, rain, box, cbar) in enumerate(panels):
    a = 2 * i + 1
    b = 2 * i + 2
    xa, ya = f"x{a}", f"y{a}"
    xb, yb = f"x{b}", f"y{b}"
    x0, x1, y0, y1 = box
    layout[f"xaxis{a}"] = dict(domain=[x0 / W, x1 / W], range=lon_range, anchor=ya, tickvals=lon_ticks, ticktext=lon_labels,
        ticks="outside", ticklen=1, tickcolor="rgba(0,0,0,0)", showgrid=True, gridcolor="#777", griddash="1px,4px", gridwidth=1,
        showline=True, mirror=True, linecolor="black", linewidth=2, zeroline=False,
        tickfont=dict(family=FONT, size=12, color="#333"))
    layout[f"yaxis{a}"] = dict(domain=[1 - y1 / H, 1 - y0 / H], range=lat_range, anchor=xa, tickvals=lat_ticks, ticktext=lat_labels,
        ticks="outside", ticklen=4, tickcolor="rgba(0,0,0,0)", showgrid=True, gridcolor="#777", griddash="1px,4px", gridwidth=1,
        showline=True, mirror=True, linecolor="black", linewidth=2, zeroline=False,
        tickfont=dict(family=FONT, size=12, color="#333"))

    # rain, lowest level first
    for level in sorted(rain_styles):
        polys = [closed(p) for lv, p in rain if lv == level]
        if not polys:
            continue
        fill, stroke, lw = rain_styles[level]
        xs, ys = join(polys)
        fig.add_trace(go.Scatter(x=xs, y=ys, xaxis=xa, yaxis=ya, mode="lines", fill="toself", fillcolor=fill,
                                 line=dict(color=stroke, width=lw, shape="spline", smoothing=0.8),
                                 hoverinfo="skip", showlegend=False, name=f"{name} {level}"))

    # range ring
    shapes.append(dict(type="circle", xref=xa, yref=ya, x0=ring_lon[0], x1=ring_lon[1], y0=ring_lat[0], y1=ring_lat[1],
                       line=dict(color="#555", width=1), layer="above"))

    # map lines
    xs, ys = join([border_main, border_rj, coast_main, coast_west, coast_loop, santos_loop, ilha_grande, sepetiba,
                   sao_sebastiao, west_a, west_b, top_a, top_b, top_c, rmsp_outer] + rmsp_inner)
    fig.add_trace(go.Scatter(x=xs, y=ys, xaxis=xa, yaxis=ya, mode="lines", line=dict(color="black", width=2),
                             hoverinfo="skip", showlegend=False))
    xs, ys = join([coast_thick])
    fig.add_trace(go.Scatter(x=xs, y=ys, xaxis=xa, yaxis=ya, mode="lines", line=dict(color="black", width=4),
                             hoverinfo="skip", showlegend=False))
    # marks just above the frame
    mx, my = [], []
    for m in top_marks:
        mx += [m + 0.02, m - 0.02, None]
        my += [lat_range[1] - 0.06, lat_range[1] - 0.06, None]
    fig.add_trace(go.Scatter(x=mx, y=my, xaxis=xa, yaxis=ya, mode="lines", line=dict(color="black", width=1),
                             cliponaxis=False, hoverinfo="skip", showlegend=False))

    # colour bar
    cx0, cx1, cy0, cy1 = cbar
    bands = list(range(len(scale_colors)))
    layout[f"xaxis{b}"] = dict(domain=[cx0 / W, cx1 / W], range=[0, 1], anchor=yb, visible=False, fixedrange=True)
    layout[f"yaxis{b}"] = dict(domain=[1 - cy1 / H, 1 - cy0 / H], range=[-1, 16], anchor=xb, side="right",
        tickvals=list(range(len(scale_labels))), ticktext=scale_labels, ticks="", showgrid=False, zeroline=False,
        showline=False, tickfont=dict(family=FONT, size=15, color="#222"), ticklabelposition="outside")
    fig.add_trace(go.Bar(x=[1] * len(bands), y=[v + 0.5 for v in bands], base=0, width=1, orientation="h",
                         marker=dict(color=scale_colors, line=dict(width=0)), xaxis=xb, yaxis=yb,
                         hoverinfo="skip", showlegend=False))
    fig.add_trace(go.Scatter(x=[0, 0.5, 1, 0], y=[15, 16, 15, 15], xaxis=xb, yaxis=yb, mode="lines", fill="toself",
                             fillcolor=scale_over_color, line=dict(color="black", width=1),
                             hoverinfo="skip", showlegend=False, cliponaxis=False))
    fig.add_trace(go.Scatter(x=[0, 0.5, 1], y=[0, -1, 0], xaxis=xb, yaxis=yb, mode="lines",
                             line=dict(color="black", width=1), hoverinfo="skip", showlegend=False, cliponaxis=False))
    fig.add_trace(go.Scatter(x=[0, 0], y=[0, 15], xaxis=xb, yaxis=yb, mode="lines",
                             line=dict(color="#444", width=1), hoverinfo="skip", showlegend=False, cliponaxis=False))

annotations = [dict(text=f"<b>{t}</b>", x=tx / W, y=1 - ty / H, xref="paper", yref="paper", showarrow=False,
                    xanchor="center", yanchor="middle", font=dict(family=FONT, size=30, color="black"))
               for t, tx, ty in titles]

fig.update_layout(width=W, height=H, margin=dict(l=0, r=0, t=0, b=0), paper_bgcolor="white", plot_bgcolor="white",
                  showlegend=False, annotations=annotations, shapes=shapes, barmode="overlay", **layout)
fig.write_html("out.html", config=dict(displayModeBar=False),
               post_script="document.body.style.margin='0';document.body.style.overflow='hidden';window.dispatchEvent(new Event('resize'));")
